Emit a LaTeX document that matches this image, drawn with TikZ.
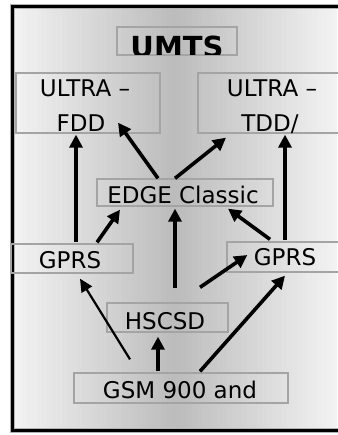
\documentclass[tikz,border=0pt]{standalone}
\usepackage{fontspec}
\setmainfont{DejaVu Sans}
\usetikzlibrary{arrows.meta,calc}
\begin{document}
\begin{tikzpicture}[x=1pt,y=-1pt,
  box/.style={draw=boxgray,line width=1.3pt,rectangle,inner sep=0pt},
  lbl/.style={anchor=base,inner sep=0pt,font=\fontsize{23}{28}\selectfont},
  arr/.style={line width=3.6pt,-{Triangle[length=13pt,width=13pt]}},
  thinarr/.style={line width=2.2pt,-{Triangle[length=13pt,width=12pt]}}]
\definecolor{boxgray}{HTML}{A4A4A4}
\definecolor{bgl}{HTML}{F3F3F3}
\definecolor{bgm}{HTML}{BBBBBB}
\useasboundingbox (0,0) rectangle (337,435);
\fill[white] (0,0) rectangle (337,435);
% horizontal gradient background, drawn as strips
\foreach \i in {0,...,64} {
  \pgfmathtruncatemacro\p{max(0,min(100,100*(1-abs(12+5*\i+2.5-175)/163)))}
  \fill[bgm!\p!bgl] (12+5*\i,7) rectangle (12+5*\i+5.4,430);
}
% frame
\draw[line width=5pt,gray!60] (340,7) -- (12.5,7) -- (12.5,430.5) -- (340,430.5);
\draw[line width=3pt,black] (340,7) -- (12.5,7) -- (12.5,430.5) -- (340,430.5);
% boxes
\node[box,minimum width=120pt,minimum height=28pt] (umts) at (177,41) {};
\node[box,minimum width=144pt,minimum height=60pt] (fdd) at (88,103) {};
\node[box,minimum width=142pt,minimum height=60pt] (tdd) at (269,103) {};
\node[box,minimum width=176pt,minimum height=27pt] (edge) at (185,192.5) {};
\node[box,minimum width=122pt,minimum height=29pt] (gprsl) at (72,258.5) {};
\node[box,minimum width=114pt,minimum height=30pt] (gprsr) at (284,257) {};
\node[box,minimum width=121pt,minimum height=29pt] (hscsd) at (167.5,317.5) {};
\node[box,minimum width=214pt,minimum height=30pt] (gsm) at (181,388) {};
% labels
\begin{scope}
\clip (117,27) rectangle (237,55);
\node[anchor=base,inner sep=0pt,font=\fontsize{29}{30}\selectfont\bfseries] (tumts) at (177,58) {UMTS};
\end{scope}
\node[lbl] (tfdd1) at (85,97) {ULTRA –};
\node[lbl] (tfdd2) at (81,132) {FDD};
\node[lbl] (ttdd1) at (272,97) {ULTRA –};
\node[lbl] (ttdd2) at (270,132) {TDD/};
\node[lbl] (tedge) at (183,204) {EDGE Classic};
\node[lbl] (tgprsl) at (70,268) {GPRS};
\node[lbl] (tgprsr) at (285,265) {GPRS};
\node[lbl] (thscsd) at (165,329) {HSCSD};
\node[lbl] (tgsm) at (180,398) {GSM 900 and};
% arrows
\draw[arr] ($(gprsl.north)+(4,-1)$) -- ($(fdd.south)+(-12,1)$);
\draw[arr] ($(gprsr.north)+(1,-1)$) -- ($(tdd.south)+(16,1)$);
\draw[arr] ($(edge.north)+(-27,0)$) -- ($(fdd.south)+(30,-11)$);
\draw[arr] ($(edge.north)+(-10,0)$) -- ($(tdd.south)+(-43,4)$);
\draw[arr] ($(gprsl.north)+(25,-1)$) -- ($(edge.south)+(-65,3)$);
\draw[arr] ($(hscsd.north)+(7.5,-14)$) -- ($(edge.south)+(-10,2)$);
\draw[arr] ($(gprsr.north)+(-14,-2)$) -- ($(edge.south)+(43,2)$);
\draw[arr] ($(hscsd.north)+(32.5,-15)$) -- ($(gprsr.west)+(21,-2)$);
\draw[thinarr] ($(gsm.north)+(-51,-13)$) -- ($(gprsl.south)+(8,5)$);
\draw[arr] ($(gsm.north)+(19,-1)$) -- ($(gprsr.south)+(1,3)$);
\draw[arr] ($(gsm.north)+(-23,-1)$) -- ($(hscsd.south)+(-9.5,4)$);
\end{tikzpicture}
\end{document}
